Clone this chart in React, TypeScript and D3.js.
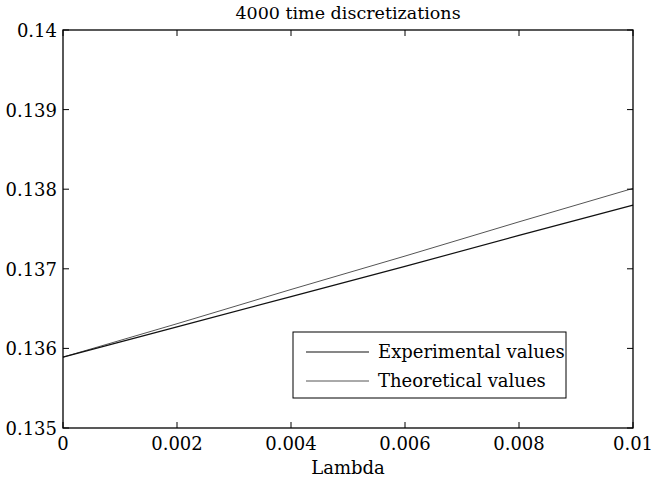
import { useRef, useEffect } from "react";
import * as d3 from "d3";

const lambdas = [0, 0.002, 0.004, 0.006, 0.008, 0.01];
const experimental = [0.13589, 0.13627, 0.13665, 0.13703, 0.13742, 0.1378];
const theoretical = [0.13589, 0.13631, 0.13674, 0.13716, 0.13759, 0.13801];
const xTicks = [0, 0.002, 0.004, 0.006, 0.008, 0.01];
const yTicks = [0.135, 0.136, 0.137, 0.138, 0.139, 0.14];

const W = 652;
const H = 489;
const M = { left: 63, right: 19, top: 30, bottom: 61 };
const FONT = "DejaVu Serif";

export default function App() {
  const svgRef = useRef<SVGSVGElement>(null);

  useEffect(() => {
    if (!svgRef.current) return;
    const svg = d3.select(svgRef.current);
    svg.selectAll("*").remove();

    const x = d3.scaleLinear().domain([0, 0.01]).range([M.left, W - M.right]);
    const y = d3.scaleLinear().domain([0.135, 0.14]).range([H - M.bottom, M.top]);
    const fmt = (v: number) => (v === 0 ? "0" : String(+v.toFixed(3)));

    // series
    const line = d3
      .line<number>()
      .x((_, i) => x(lambdas[i]))
      .y((d) => y(d));

    svg
      .append("path")
      .datum(theoretical)
      .attr("d", line)
      .attr("fill", "none")
      .attr("stroke", "#555")
      .attr("stroke-width", 1);

    svg
      .append("path")
      .datum(experimental)
      .attr("d", line)
      .attr("fill", "none")
      .attr("stroke", "#111")
      .attr("stroke-width", 1.2);

    // frame
    svg
      .append("rect")
      .attr("x", M.left)
      .attr("y", M.top)
      .attr("width", W - M.left - M.right)
      .attr("height", H - M.top - M.bottom)
      .attr("fill", "none")
      .attr("stroke", "#000")
      .attr("stroke-width", 1.3);

    const tickLen = 6;
    const g = svg.append("g").attr("stroke", "#000").attr("stroke-width", 1);

    xTicks.forEach((t) => {
      g.append("line").attr("x1", x(t)).attr("x2", x(t)).attr("y1", y(0.135)).attr("y2", y(0.135) - tickLen);
      g.append("line").attr("x1", x(t)).attr("x2", x(t)).attr("y1", y(0.14)).attr("y2", y(0.14) + tickLen);
    });
    yTicks.forEach((t) => {
      g.append("line").attr("x1", x(0)).attr("x2", x(0) + tickLen).attr("y1", y(t)).attr("y2", y(t));
      g.append("line").attr("x1", x(0.01)).attr("x2", x(0.01) - tickLen).attr("y1", y(t)).attr("y2", y(t));
    });

    // tick labels
    svg
      .selectAll(".xt")
      .data(xTicks)
      .enter()
      .append("text")
      .attr("x", (d) => x(d))
      .attr("y", y(0.135) + 22)
      .attr("text-anchor", "middle")
      .style("font-family", FONT)
      .style("font-size", "18px")
      .text(fmt);

    svg
      .selectAll(".yt")
      .data(yTicks)
      .enter()
      .append("text")
      .attr("x", M.left - 6)
      .attr("y", (d) => y(d) + 7)
      .attr("text-anchor", "end")
      .style("font-family", FONT)
      .style("font-size", "18px")
      .text(fmt);

    // title and axis label
    svg
      .append("text")
      .attr("x", (M.left + W - M.right) / 2)
      .attr("y", 19)
      .attr("text-anchor", "middle")
      .style("font-family", FONT)
      .style("font-size", "17.5px")
      .text("4000 time discretizations");

    svg
      .append("text")
      .attr("x", (M.left + W - M.right) / 2)
      .attr("y", 474)
      .attr("text-anchor", "middle")
      .style("font-family", FONT)
      .style("font-size", "18px")
      .text("Lambda");

    // legend
    const leg = svg.append("g");
    leg
      .append("rect")
      .attr("x", 293)
      .attr("y", 332)
      .attr("width", 273)
      .attr("height", 66)
      .attr("fill", "#fff")
      .attr("stroke", "#000")
      .attr("stroke-width", 1);

    const items = [
      { label: "Experimental values", color: "#111", w: 1.2 },
      { label: "Theoretical values", color: "#555", w: 1 },
    ];
    items.forEach((it, i) => {
      const yy = 352 + i * 29;
      leg.append("line").attr("x1", 306).attr("x2", 369).attr("y1", yy).attr("y2", yy).attr("stroke", it.color).attr("stroke-width", it.w);
      leg
        .append("text")
        .attr("x", 378)
        .attr("y", yy + 6)
        .style("font-family", FONT)
        .style("font-size", "18px")
        .text(it.label);
    });
  }, []);

  return (
    <svg
      ref={svgRef}
      width={W}
      height={H}
      style={{ position: "absolute", left: 0, top: 0, background: "#fff" }}
    />
  );
}
